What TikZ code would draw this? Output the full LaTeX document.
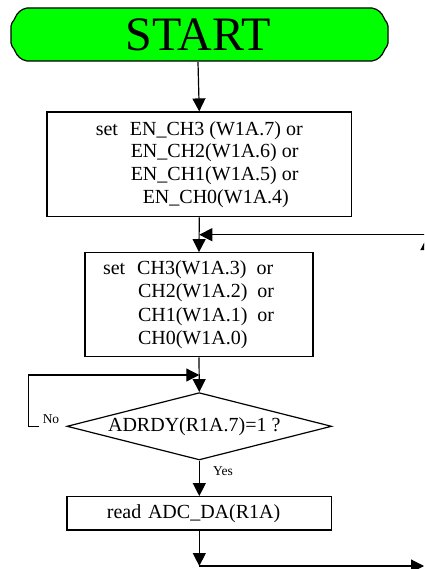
\documentclass[tikz,border=0pt]{standalone}
\usepackage{fontspec}
\setmainfont{Liberation Serif}
\usetikzlibrary{arrows.meta,shapes.geometric}

\begin{document}
\begin{tikzpicture}[x=1pt,y=-1pt,
    line width=1.2pt,
    >={Triangle[length=13pt,width=13pt]},
    blk/.style={draw,rectangle,inner sep=0pt,font=\fontsize{20}{22.7}\selectfont},
    cond/.style={draw,diamond,aspect=3.9,inner sep=0pt,font=\fontsize{20}{22.7}\selectfont},
    lbl/.style={inner sep=0pt,font=\fontsize{13.5}{15}\selectfont}]
      \useasboundingbox (0,0) rectangle (424,569) ;
      \clip (0,0) rectangle (424,569) ;
      % start plaque
      \draw[fill={rgb,255:red,0;green,255;blue,0}] (27,8)--(372,8)
        .. controls (378,9) and (382,13) .. (384,18) -- (385,20)
        .. controls (386,22) and (388,23) .. (388,26) -- (388,43)
        .. controls (388,46) and (386,47) .. (385,49) -- (384,51)
        .. controls (382,56) and (378,60) .. (372,61) -- (27,61)
        .. controls (21,60) and (17,56) .. (15,51) -- (14,49)
        .. controls (13,47) and (11,46) .. (11,43) -- (11,26)
        .. controls (11,23) and (13,22) .. (14,20) -- (15,18)
        .. controls (17,13) and (21,9) .. (27,8) -- cycle ;
      \node[inner sep=0pt,minimum width=377pt,minimum height=53pt,%
        font=\fontsize{48}{52}\selectfont] (start) at (198,35) {START} ;
      \node[blk,align=left,minimum width=304.5pt,minimum height=104.7pt] %
        (enable) at (199.25,164.35)
        {set\hspace{12pt}EN\_CH3 (W1A.7) or\\
         \hspace*{35pt}EN\_CH2(W1A.6) or\\
         \hspace*{35pt}EN\_CH1(W1A.5) or\\
         \hspace*{47pt}EN\_CH0(W1A.4)} ;
      \node[blk,align=left,text width=192pt,inner xsep=18pt,minimum height=104pt,%
        font=\fontsize{20}{23.5}\selectfont] (select) at (199,304.7)
        {set\hspace{12pt}CH3(W1A.3)\hspace{10pt}or\\
         \hspace*{35pt}CH2(W1A.2)\hspace{10pt}or\\
         \hspace*{35pt}CH1(W1A.1)\hspace{10pt}or\\
         \hspace*{35pt}CH0(W1A.0)} ;
      \node[cond,minimum width=264.7pt,minimum height=67.3pt] %
        (ready) at (199.3,426.3) {ADRDY(R1A.7)=1 ?\hspace*{10pt}} ;
      \node[blk,align=left,text width=184.7pt,inner xsep=40pt,minimum height=33.3pt] %
        (read) at (199.3,513.3) {read ADC\_DA(R1A)} ;
      \coordinate (back) at (199.25,234.7) ;
      \coordinate (backR) at (427,234.7) ;
      \coordinate (wait) at (199.25,375) ;
      \coordinate (noEnd) at ([xshift=-27pt]ready.west) ;
      \coordinate (done) at (199.3,566) ;
      \coordinate (out) at (424,566) ;
      \draw[->] (start.south)--(enable.north) ;
      \draw[->] (enable.south)--(select.north) ;
      \draw[->] (427,262)--(427,237) ;
      \draw[->] (backR)--(back) ;
      \draw[->] (select.south)--(ready.north) ;
      \draw[->] (noEnd)--++(-11,0) |- (wait) ;
      \node[lbl] (no) at (51,419) {No} ;
      \draw[->] (ready.south)--(read.north) ;
      \node[lbl] (yes) at (223,471) {Yes} ;
      \draw[->] (read.south)--(done) ;
      \draw[->] (done)--(out) ;
    \end{tikzpicture}
\end{document}
